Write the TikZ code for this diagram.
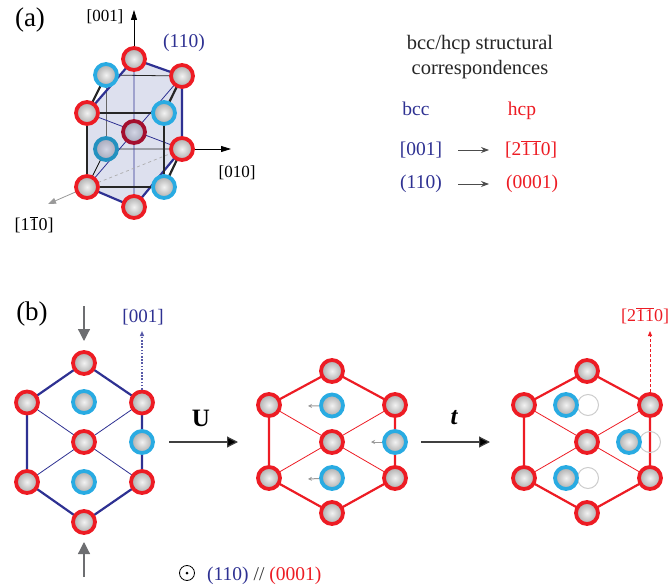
\documentclass[tikz,border=0pt]{standalone}
\usepackage{fontspec}
\setmainfont{Liberation Serif}
\usetikzlibrary{arrows.meta,backgrounds}
\definecolor{cred}{HTML}{ED1C24}
\definecolor{cblue}{HTML}{29ABE2}
\definecolor{cnavy}{HTML}{2E3192}
\definecolor{cgrey}{HTML}{6D6E71}
\definecolor{cplane}{HTML}{DDE0EE}
\definecolor{ballin}{HTML}{F2F2F2}
\definecolor{ballout}{HTML}{ABABAB}
\definecolor{darkin}{HTML}{D2D5E4}
\definecolor{darkout}{HTML}{A4A6B8}
\newcommand{\ob}[1]{$\overline{\mbox{#1}}$}
\tikzset{
  x=1pt,y=-1pt,
  ball/.style={circle,inner sep=0pt,minimum size=22pt,line width=3.8pt,inner color=ballin,outer color=ballout},
  rball/.style={ball,draw=cred},
  bball/.style={ball,draw=cblue},
  rdark/.style={ball,draw=red!65!cnavy!90!black,inner color=darkin,outer color=darkout},
  bdark/.style={ball,draw=cblue!85!black,inner color=darkin,outer color=darkout},
  ghost/.style={circle,inner sep=0pt,minimum size=21pt,draw=gray!40,line width=1pt},
  lab/.style={inner sep=0pt,anchor=base,font=\fontsize{19.5}{25}\selectfont},
  small/.style={inner sep=0pt,anchor=base,font=\fontsize{17}{20}\selectfont},
  big/.style={inner sep=0pt,font=\fontsize{27}{30}\selectfont},
  thickline/.style={line width=2.2pt},
  thinline/.style={line width=0.8pt},
  mainarrow/.style={line width=1.2pt,draw=black!75,-{Triangle[length=11pt,width=11pt,fill=black]}},
  greyarrow/.style={line width=1.2pt,draw=cgrey,-{Triangle[length=12pt,width=12pt]}},
  shiftarrow/.style={line width=1pt,draw=gray!80,-{Stealth[length=4pt,width=4pt]}},
  axis/.style={line width=0.8pt,draw=black,-{Triangle[length=10pt,width=6pt]}},
  corr/.style={line width=0.8pt,draw=black!70,-{Stealth[length=8pt,width=6pt]}}
}
\begin{document}
\begin{tikzpicture}
\useasboundingbox (0,0) rectangle (670,586);
% panel a nodes
\node[rball] (at) at (134,59) {};
\node[rball] (aur) at (182,76) {};
\node[bball] (aul) at (106,75) {};
\node[rball] (al) at (87,113) {};
\node[bball] (ar2) at (164,113) {};
\node[rdark] (ac) at (134,132) {};
\node[bdark] (ab2) at (106,149) {};
\node[rball] (ar) at (182,149) {};
\node[rball] (abl) at (87,187) {};
\node[bball] (abr) at (164,187) {};
\node[rball] (ab) at (134,207) {};
\coordinate (a001) at (134,10);
\coordinate (a010) at (231,149);
\coordinate (a110) at (48,204);
\begin{pgfonlayer}{background}
  \fill[cplane] (at.center)--(aur.center)--(ar.center)--(ab.center)--(abl.center)--(al.center)--cycle;
  \draw[thinline,black!60] (aul.center)--(ab2.center);
  \draw[thinline,black!85] (ab2.center)--(ar.center) (aul.center)--(aur.center);
  \draw[thinline,black] (ab2.center)--(abl.center);
  \draw[thinline,cnavy] (at.center)--(ab.center) (al.center)--(ar.center) (aur.center)--(abl.center);
  \draw[line width=0.7pt,dashed,gray!65] (abl.center)--(ar.center);
  \draw[thickline,cnavy] (at.center)--(aur.center)--(ar.center)--(ab.center)--(abl.center) (al.center)--(at.center);
  \draw[thickline,black!85] (al.center)--(ar2.center)--(abr.center)--(abl.center)--cycle;
  \draw[thickline,black!85] (aul.center)--(al.center);
  \draw[thickline,black!85] (aur.center)--(ar2.center);
  \draw[thickline,black!85] (ar.center)--(abr.center);
\end{pgfonlayer}
\draw[axis] (at)--(a001);
\draw[axis] (ar)--(a010);
\draw[line width=0.8pt,draw=gray!80,-{Triangle[length=8pt,width=6pt]}] (abl)--(a110);
\node[big] (la) at (30,20) {(a)};
\node[small] (l001a) at (105,22) {[001]};
\node[lab,text=cnavy] (l110a) at (184,48) {(110)};
\node[small] (l010a) at (237,177) {[010]};
\node[small,font=\fontsize{18}{20}\selectfont] (l110b) at (34,230) {[1\ob{1}0]};
% correspondences
\node[lab,anchor=center,align=center,text=black!85,font=\fontsize{20.5}{25}\selectfont] (title) at (480,57) {bcc/hcp structural\\correspondences};
\node[lab,text=cnavy] (tbcc) at (416,115) {bcc};
\node[lab,text=cred] (thcp) at (522,115) {hcp};
\node[lab,text=cnavy] (t1) at (421,155) {[001]};
\node[lab,text=cred] (t2) at (531,155) {[2\ob{1}\ob{1}0]};
\node[lab,text=cnavy] (t3) at (421,188) {(110)};
\node[lab,text=cred] (t4) at (532,188) {(0001)};
\coordinate (e1a) at (458,150);
\coordinate (e1b) at (489,150);
\coordinate (e2a) at (458,184);
\coordinate (e2b) at (489,184);
\draw[corr] (e1a)--(e1b);
\draw[corr] (e2a)--(e2b);
% panel b, hexagon 1
\node[rball] (bt) at (84,363) {};
\node[rball] (bul) at (27,402.5) {};
\node[rball] (bur) at (142,402.5) {};
\node[rball] (bc) at (84,442) {};
\node[rball] (bll) at (27,482) {};
\node[rball] (blr) at (142,482) {};
\node[rball] (bb) at (84,522) {};
\node[bball] (bb1) at (84,402) {};
\node[bball] (bb2) at (142,442) {};
\node[bball] (bb3) at (84,482) {};
\begin{pgfonlayer}{background}
  \draw[thickline,cnavy] (bt.center)--(bur.center)--(blr.center)--(bb.center)--(bll.center)--(bul.center)--cycle;
  \draw[thinline,cnavy] (bul.center)--(blr.center) (bll.center)--(bur.center);
\end{pgfonlayer}
% hexagon 2
\node[rball] (ct) at (332,371) {};
\node[rball] (cul) at (269,405) {};
\node[rball] (cur) at (395,405) {};
\node[rball] (cc) at (332,442) {};
\node[rball] (cll) at (269,478) {};
\node[rball] (clr) at (395,478) {};
\node[rball] (cb) at (332,513) {};
\node[bball] (cb1) at (332,405.5) {};
\node[bball] (cb2) at (395,442) {};
\node[bball] (cb3) at (332,478) {};
\begin{pgfonlayer}{background}
  \draw[thickline,cred] (ct.center)--(cur.center)--(clr.center)--(cb.center)--(cll.center)--(cul.center)--cycle;
  \draw[thinline,cred] (cul.center)--(clr.center) (cll.center)--(cur.center);
\end{pgfonlayer}
\coordinate (s1) at (308,406);
\coordinate (s2) at (371,442);
\coordinate (s3) at (308,479);
\draw[shiftarrow] (cb1)--(s1);
\draw[shiftarrow] (cb2)--(s2);
\draw[shiftarrow] (cb3)--(s3);
% hexagon 3
\node[ghost] (g1) at (588,405) {};
\node[ghost] (g2) at (650,442) {};
\node[ghost] (g3) at (588,478) {};
\node[rball] (dt) at (587,371) {};
\node[rball] (dul) at (524,405) {};
\node[rball] (dur) at (650,405) {};
\node[rball] (dc) at (587,442) {};
\node[rball] (dll) at (524,478) {};
\node[rball] (dlr) at (650,478) {};
\node[rball] (db) at (587,513) {};
\node[bball] (db1) at (566,405) {};
\node[bball] (db2) at (629,442) {};
\node[bball] (db3) at (566,478) {};
\begin{pgfonlayer}{background}
  \draw[thickline,cred] (dt.center)--(dur.center)--(dlr.center)--(db.center)--(dll.center)--(dul.center)--cycle;
  \draw[thinline,cred] (dul.center)--(dlr.center) (dll.center)--(dur.center);
\end{pgfonlayer}
% arrows
\coordinate (u1) at (169,442);
\coordinate (u2) at (238,442);
\coordinate (t1a) at (421,442);
\coordinate (t2a) at (490,442);
\draw[mainarrow] (u1)--(u2);
\draw[mainarrow] (t1a)--(t2a);
\node[inner sep=0pt,font=\fontsize{25}{28}\selectfont\bfseries] (lu) at (201,418) {U};
\node[inner sep=0pt,font=\fontsize{25}{28}\selectfont\bfseries\itshape] (lt) at (454,418) {t};
\coordinate (p1) at (84,306);
\coordinate (p2) at (84,341);
\coordinate (p3) at (84,577);
\coordinate (p4) at (84,542);
\draw[greyarrow] (p1)--(p2);
\draw[greyarrow] (p3)--(p4);
\coordinate (q1) at (142,331);
\coordinate (q2) at (650,331);
\draw[line width=1.1pt,dash pattern=on 1.6pt off 1.6pt,cnavy!80,-{Triangle[length=5pt,width=4pt]}] (bur)--(q1);
\draw[line width=0.8pt,densely dashed,cred,-{Triangle[length=5pt,width=4pt]}] (dur)--(q2);
\node[big] (lb) at (32,314) {(b)};
\node[small,text=cnavy,font=\fontsize{19}{20}\selectfont] (l001b) at (143,322) {[001]};
\node[small,text=cred,font=\fontsize{18}{20}\selectfont] (l211b) at (645,321) {[2\ob{1}\ob{1}0]};
% bottom
\node[circle,draw=black,line width=0.8pt,minimum size=15pt,inner sep=0pt] (dot) at (187,573) {};
\fill (dot.center) circle (1.5);
\node[lab,anchor=base west] (bot) at (207,580) {\textcolor{cnavy}{(110)} \textcolor{black!80}{//} \textcolor{cred}{(0001)}};
\end{tikzpicture}
\end{document}
